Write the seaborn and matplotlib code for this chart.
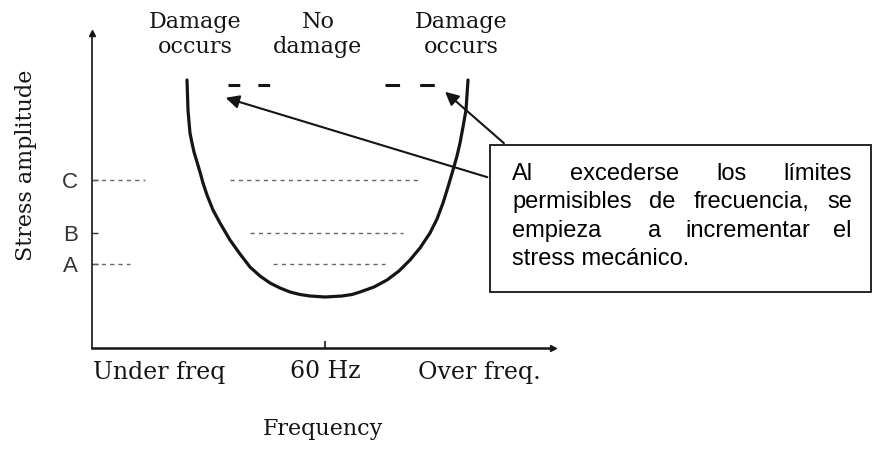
import matplotlib
matplotlib.use("Agg")
import matplotlib.pyplot as plt
import seaborn as sns
import pandas as pd
from matplotlib.patches import Rectangle

# U-shaped damage curve (arbitrary frequency / stress units)
curve_x = [95, 95.5, 96, 97, 98, 100, 102, 105, 108, 111,
           115, 121, 128, 138, 148, 158, 168, 178, 188, 198,
           208, 218, 233, 250, 260, 268, 282, 295, 307, 318,
           328, 338, 345, 351, 356, 361, 365, 368, 371, 374,
           375, 376]
curve_y = [268, 253, 238, 226, 215, 205, 196, 186, 176, 165,
           153, 138, 125, 108, 94, 81, 72, 65, 60, 56,
           53.5, 52, 51, 52, 53.5, 56, 61, 68, 77, 88,
           100, 115, 129, 145, 161, 178, 192, 205, 221, 238,
           253, 268]

# stress levels on the y axis
level_names = ["A", "B", "C"]
level_y = [84, 115, 168]

# dashed guide segments (y, start, end)
top_y = 263
top_x0 = [136, 293]
top_x1 = [178, 343]
guide_y = [168, 168, 115, 84, 84]
guide_x0 = [1, 138, 158, 1, 181]
guide_x1 = [53, 326, 311, 38, 293]

freq_ticks = [67, 233, 387]
freq_labels = ["Under freq", "60 Hz", "Over freq."]

top_labels = ["Damage\noccurs", "No\ndamage", "Damage\noccurs"]
top_label_x = [103, 226, 369]

box_lines = ["Al  excederse  los  límites",
             "permisibles de frecuencia, se",
             "empieza  a incrementar el",
             "stress mecánico."]

ink = "#151515"
serif = "DejaVu Serif"

sns.set_style("white")
plt.rcParams["lines.scale_dashes"] = False

W, H = 873, 449
fig = plt.figure(figsize=(W / 100, H / 100), dpi=100)
ax = fig.add_axes([92 / W, (H - 348) / H, 461 / W, 315 / H])
ax.set_xlim(0, 461)
ax.set_ylim(0, 315)

df = pd.DataFrame({"freq": curve_x, "stress": curve_y})
sns.lineplot(data=df, x="freq", y="stress", ax=ax, color=ink, lw=2.3,
             sort=False, estimator=None, clip_on=False)

# guide lines
ax.hlines(top_y, top_x0[0], top_x1[0], color=ink, lw=2.2, linestyle=(0, (8.5, 13)))
ax.hlines(top_y, top_x0[1], top_x1[1], color=ink, lw=2.2, linestyle=(0, (10.5, 14.5)))
ax.hlines(guide_y, guide_x0, guide_x1, color="#666666", lw=1.0, linestyle=(0, (3, 3)))

# axes look
for s in ["top", "right"]:
    ax.spines[s].set_visible(False)
ax.spines["left"].set_color(ink)
ax.spines["left"].set_linewidth(1.2)
ax.spines["bottom"].set_color(ink)
ax.spines["bottom"].set_linewidth(1.8)
ax.plot(1, 0, ">", color=ink, ms=5, transform=ax.transAxes, clip_on=False)
ax.plot(0, 1, "^", color=ink, ms=4, transform=ax.transAxes, clip_on=False)

ax.set_xticks(freq_ticks)
ax.set_xticklabels(freq_labels, fontsize=17, family=serif, color=ink)
ax.tick_params(axis="x", bottom=True, direction="in", length=5, width=1.2,
               pad=9, colors=ink)
ticks = ax.xaxis.get_major_ticks()
ticks[0].tick1line.set_visible(False)
ticks[2].tick1line.set_visible(False)

ax.set_yticks(level_y)
ax.set_yticklabels(level_names, fontsize=16, family="Liberation Sans", color="#333333")
ax.tick_params(axis="y", left=True, direction="in", length=4, width=1, pad=10,
               colors="#333333")

ax.set_ylabel("Stress amplitude", fontsize=16, family=serif, color=ink)
ax.yaxis.set_label_coords(-0.12, 0.58)
ax.set_xlabel("Frequency", fontsize=16, family=serif, color=ink)
ax.xaxis.set_label_coords(0.501, -0.222)

for lab, x in zip(top_labels, top_label_x):
    ax.text(x, 337, lab, ha="center", va="top", fontsize=16, family=serif,
            color=ink, linespacing=1.2, clip_on=False)

# callout box
fig.add_artist(Rectangle((490 / W, (H - 292) / H), 381 / W, 147 / H,
                         transform=fig.transFigure, fill=False, ec=ink, lw=1.3))

box_font = dict(fontsize=17, family="Liberation Sans", color="black")
r = fig.canvas.get_renderer()


def justify(line, x0, x1, base, last=False):
    tokens = line.split(" ")
    widths = []
    for tok in tokens:
        if tok:
            t = fig.text(0, 0, tok, **box_font)
            widths.append(t.get_window_extent(r).width)
            t.remove()
        else:
            widths.append(0)
    if last:
        fig.text(x0 / W, (H - base) / H, line, va="baseline", **box_font)
        return
    gap = (x1 - x0 - sum(widths)) / (len(tokens) - 1)
    x = x0
    for tok, w in zip(tokens, widths):
        if tok:
            fig.text(x / W, (H - base) / H, tok, va="baseline", **box_font)
        x += w + gap


baselines = [180, 208, 237, 265]
for i, (line, b) in enumerate(zip(box_lines, baselines)):
    justify(line, 512, 852, b, last=(i == len(box_lines) - 1))

# arrows from box to the curve ends
ax.annotate("", xy=(131, 251), xytext=(398, 170),
            arrowprops=dict(arrowstyle="-|>", color=ink, lw=1.5, mutation_scale=20),
            annotation_clip=False)
ax.annotate("", xy=(351, 258), xytext=(414, 203),
            arrowprops=dict(arrowstyle="-|>", color=ink, lw=1.5, mutation_scale=20),
            annotation_clip=False)

fig.savefig("out.png", dpi=100)
